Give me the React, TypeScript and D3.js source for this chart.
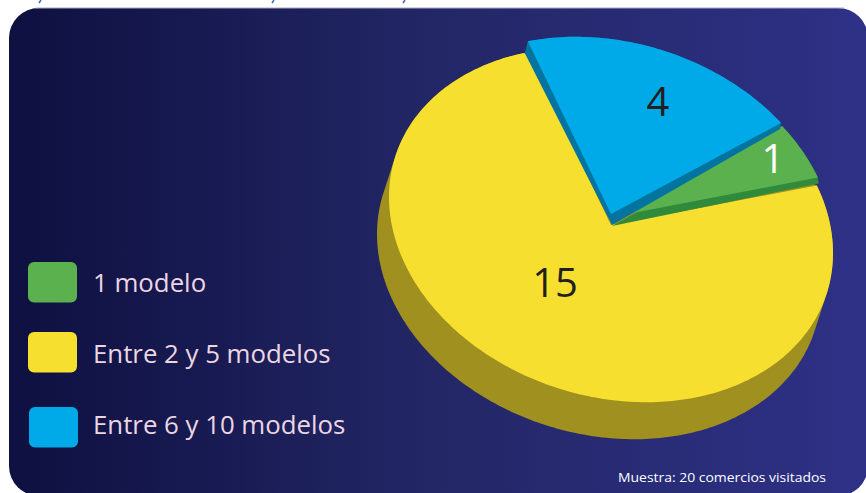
import React from "react";
import * as d3 from "d3";

const categories = ["1 modelo", "Entre 2 y 5 modelos", "Entre 6 y 10 modelos"];
const values = [1, 15, 4];
const topColors = ["#5cb14f", "#f7df30", "#00aae8"];
const wallColors = ["#2f8a3b", "#a0901f", "#03749f"];
const labelColors = ["#ffffff", "#231f20", "#231f20"];
const note = "Muestra: 20 comercios visitados";

const W = 866, H = 493;
const deg = Math.PI / 180;
const centers = [{ x: 612, y: 217 }, { x: 611, y: 225 }, { x: 611, y: 214 }];
const labelPos = [{ x: 773, y: 173 }, { x: 555, y: 297 }, { x: 658, y: 115.5 }];
const legendBoxY = [262, 332, 407];
const legendBoxX = [28, 28, 29];
const legendTextY = [292, 363, 434];
const titleMarks = [39, 272, 403];
const yellowDrop = { x: -12, y: 37 };
const wallOffsets = [
  { start: [0, 6], apex: [0, 9], end: [1, 6] },
  null,
  { start: [-3, 12], apex: [1, 11], end: [-1, 6] },
];

const pie = d3.pie<number>().sort(null).startAngle(50 * deg).endAngle(410 * deg);
const arcs = pie(values);

const project = (a: number, c: { x: number; y: number }): [number, number] => {
  const cx = Math.sin(a), cy = -Math.cos(a);
  return [c.x + 222 * cx, c.y + 28 * cx + 175 * cy];
};
const outline = (a0: number, a1: number, c: { x: number; y: number }) => {
  const n = Math.ceil((a1 - a0) / (1 * deg));
  return d3.range(n + 1).map((i) => project(a0 + ((a1 - a0) * i) / n, c));
};
const line = d3.line<[number, number]>();
const add = (p: [number, number], o: number[]): [number, number] => [p[0] + o[0], p[1] + o[1]];

export default function App() {
  const slices = arcs.map((d, i) => {
    const c = centers[i];
    const rim = outline(d.startAngle, d.endAngle, c);
    const apex: [number, number] = [c.x, c.y];
    const top = [apex, ...rim];
    const o = wallOffsets[i];
    const wall = o
      ? [add(apex, o.apex), add(rim[0], o.start), rim[0], ...rim.slice(1, -1), rim[rim.length - 1], add(rim[rim.length - 1], o.end)]
      : (d3.polygonHull([...rim, ...rim.map((p) => add(p, [yellowDrop.x, yellowDrop.y]))]) as [number, number][]);
    return { top: line(top) + "Z", wall: line(wall) + "Z" };
  });
  return (
    <svg width={W} height={H} style={{ position: "absolute", left: 0, top: 0 }}>
      <defs>
        <linearGradient id="bg" x1="0" x2="1" y1="0" y2="0">
          <stop offset="0" stopColor="#0e1040" />
          <stop offset="0.5" stopColor="#232766" />
          <stop offset="1" stopColor="#2e3186" />
        </linearGradient>
      </defs>
      <rect width={W} height={H} fill="#fff" />
      {titleMarks.map((x) => (
        <path key={x} d={`M${x + 2} 0 L${x} 3`} stroke="#3a62b8" strokeWidth={1.4} fill="none" />
      ))}
      <rect x={9} y={8} width={859} height={488} rx={30} fill="url(#bg)" />
      <line x1={36} x2={844} y1={8} y2={8} stroke="#a9a9c6" strokeWidth={1} />
      <path d={slices[1].wall} fill={wallColors[1]} />
      <path d={slices[1].top} fill={topColors[1]} />
      <path d={slices[0].wall} fill={wallColors[0]} />
      <path d={slices[0].top} fill={topColors[0]} />
      <path d={slices[2].wall} fill={wallColors[2]} />
      <path d={slices[2].top} fill={topColors[2]} />
      {values.map((v, i) => (
        <text key={i} x={labelPos[i].x} y={labelPos[i].y} textAnchor="middle" fontFamily="'Open Sans', sans-serif" fontSize={40} fill={labelColors[i]}>
          {v}
        </text>
      ))}
      {categories.map((c, i) => (
        <g key={c}>
          <rect x={legendBoxX[i]} y={legendBoxY[i]} width={49} height={40.5} rx={6} fill={topColors[i]} />
          <text x={93} y={legendTextY[i]} fontFamily="'Open Sans', sans-serif" fontSize={25.8} fill="#ecd6e2">
            {c}
          </text>
        </g>
      ))}
      <text x={618} y={481.5} fontFamily="'Open Sans', sans-serif" fontSize={13.5} textLength={208} lengthAdjust="spacingAndGlyphs" fill="#ffffff">
        {note}
      </text>
    </svg>
  );
}
